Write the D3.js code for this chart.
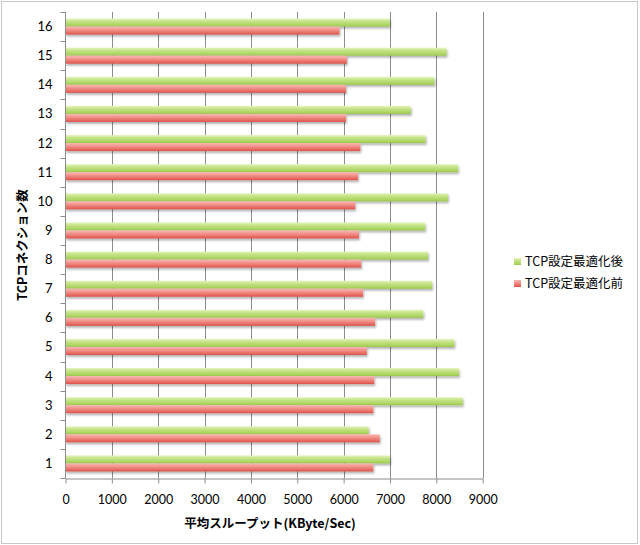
<!DOCTYPE html>
<html><head><meta charset="utf-8">
<script src="https://cdn.jsdelivr.net/npm/d3@7"></script>
<style>body{margin:0;background:#fff}svg{display:block}</style>
</head><body>
<svg id="c" width="640" height="545"></svg>
<script>
const categories = ["1","2","3","4","5","6","7","8","9","10","11","12","13","14","15","16"];
const afterVals  = [7000,6540,8570,8490,8390,7720,7910,7820,7760,8250,8470,7770,7450,7960,8220,7000];
const beforeVals = [6640,6780,6640,6660,6500,6680,6420,6380,6330,6250,6310,6360,6050,6050,6070,5910];
const seriesNames = ["TCP設定最適化後","TCP設定最適化前"];
const xTicks = [0,1000,2000,3000,4000,5000,6000,7000,8000,9000];
const xTitle = "平均スループット(KByte/Sec)";
const yTitle = "TCPコネクション数";

const svg = d3.select("#c");
const font = "Lato, 'Noto Sans CJK JP', sans-serif";
const jfont = "'Noto Sans CJK JP', sans-serif";

svg.append("rect").attr("x",1.5).attr("y",1.5).attr("width",636).attr("height",542)
  .attr("fill","#fff").attr("stroke","#c8c8c8").attr("stroke-width",1);

const L=65.5, R=482.7, T=12, B=478;
const x = d3.scaleLinear().domain([0,9000]).range([L,R]);
const y = d3.scaleBand().domain(categories.slice().reverse()).range([T,B]).paddingInner(0.45).paddingOuter(0.225);

const defs = svg.append("defs");
function grad(id, stops){
  const g = defs.append("linearGradient").attr("id",id).attr("x1",0).attr("y1",0).attr("x2",0).attr("y2",1);
  stops.forEach(s=>g.append("stop").attr("offset",s[0]).attr("stop-color",s[1]));
}
grad("gG",[[0,"#e4f4bd"],[0.35,"#c5e388"],[0.8,"#acd561"],[1,"#98c24c"]]);
grad("gR",[[0,"#f9b8b3"],[0.35,"#f19890"],[0.8,"#e86860"],[1,"#d4504a"]]);
const f = defs.append("filter").attr("id","sh").attr("x","-5%").attr("y","-30%").attr("width","110%").attr("height","180%");
f.append("feGaussianBlur").attr("in","SourceAlpha").attr("stdDeviation",1.2);
f.append("feOffset").attr("dx",0.5).attr("dy",1.5).attr("result","o");
f.append("feComponentTransfer").append("feFuncA").attr("type","linear").attr("slope",0.3);
const m = f.append("feMerge"); m.append("feMergeNode"); m.append("feMergeNode").attr("in","SourceGraphic");

// gridlines
svg.append("g").selectAll("line").data(xTicks.slice(1)).join("line")
  .attr("x1",d=>Math.round(x(d))+0.5).attr("x2",d=>Math.round(x(d))+0.5)
  .attr("y1",T).attr("y2",B).attr("stroke","#8c8c8c").attr("stroke-width",1);

const bh = y.bandwidth()/2;
const gb = svg.append("g");
gb.selectAll("rect.a").data(categories).join("rect").attr("class","a")
  .attr("x",L).attr("y",(d)=>y(d)).attr("height",bh)
  .attr("width",(d,i)=>x(afterVals[i])-L).attr("fill","url(#gG)").attr("filter","url(#sh)");
gb.selectAll("rect.b").data(categories).join("rect").attr("class","b")
  .attr("x",L).attr("y",(d)=>y(d)+bh).attr("height",bh)
  .attr("width",(d,i)=>x(beforeVals[i])-L).attr("fill","url(#gR)").attr("filter","url(#sh)");

// x axis
const xa = svg.append("g").attr("transform",`translate(0,${B+0.5})`)
  .call(d3.axisBottom(x).tickValues(xTicks).tickFormat(d3.format("d")).tickSize(5).tickSizeOuter(0).tickPadding(12));
xa.select(".domain").attr("stroke","#8c8c8c");
xa.selectAll(".tick line").attr("stroke","#8c8c8c");
xa.selectAll("text").attr("font-family",font).attr("font-size",12.5).attr("fill","#000");

// y axis
const ya = svg.append("g").attr("transform",`translate(${L},0)`);
ya.append("line").attr("x1",0).attr("x2",0).attr("y1",T).attr("y2",B).attr("stroke","#8c8c8c");
const step = (B-T)/categories.length;
ya.selectAll("line.t").data(d3.range(categories.length+1)).join("line").attr("class","t")
  .attr("x1",-5).attr("x2",0).attr("y1",i=>Math.round(T+i*step)+0.5).attr("y2",i=>Math.round(T+i*step)+0.5).attr("stroke","#8c8c8c");
ya.selectAll("text").data(categories).join("text")
  .attr("x",-13).attr("y",d=>y(d)+bh).attr("dy","0.35em").attr("text-anchor","end")
  .attr("font-family",font).attr("font-size",13).text(d=>d);

svg.append("text").attr("x",(L+R)/2-4).attr("y",528).attr("text-anchor","middle")
  .attr("font-family",jfont).attr("font-weight","bold").attr("font-size",12.5).text(xTitle);
svg.append("text").attr("transform","translate(27,245) rotate(-90)").attr("text-anchor","middle")
  .attr("font-family",jfont).attr("font-weight","bold").attr("font-size",12.5).text(yTitle);

// legend
const lg = svg.append("g");
[["url(#gG)",262],["url(#gR)",284]].forEach((s,i)=>{
  lg.append("rect").attr("x",514).attr("y",s[1]-4).attr("width",7).attr("height",7).attr("fill",s[0]);
  lg.append("text").attr("x",525).attr("y",s[1]).attr("dy","0.35em").attr("font-family",jfont)
    .attr("font-size",12.5).text(seriesNames[i]);
});
</script>
</body></html>
